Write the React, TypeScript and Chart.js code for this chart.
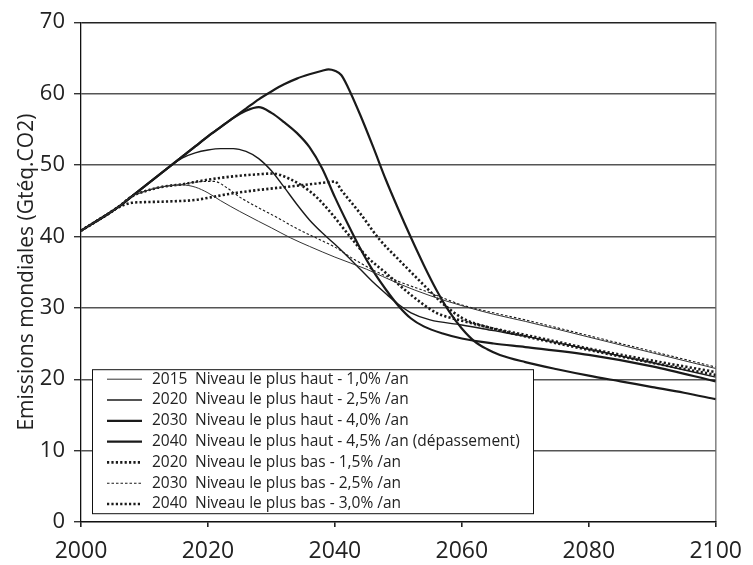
import React, { useEffect, useRef } from "react";
import { Chart, registerables } from "chart.js";

Chart.register(...registerables);

// ---- Data (Gtéq.CO2 per year) ----
const high2015Years = [2000, 2002, 2004, 2006, 2008, 2010, 2012, 2014, 2016, 2018, 2020, 2022, 2025, 2028, 2030, 2033, 2036, 2040, 2045, 2050, 2055, 2060, 2065, 2070, 2080, 2090, 2100];
const high2015Values = [40.8, 41.9, 43.0, 44.2, 45.6, 46.3, 46.8, 47.1, 47.2, 46.9, 46.1, 45.0, 43.5, 42.1, 41.2, 39.8, 38.6, 37.1, 35.4, 33.4, 31.7, 30.3, 29.1, 28.1, 25.9, 23.7, 21.5];

const high2020Years = [2000, 2002, 2004, 2006, 2008, 2010, 2012, 2014, 2016, 2018, 2020, 2022, 2024, 2026, 2028, 2030, 2032, 2034, 2036, 2038, 2040, 2042, 2044, 2046, 2048, 2050, 2052, 2055, 2060, 2065, 2070, 2080, 2090, 2100];
const high2020Values = [40.8, 41.9, 43.0, 44.2, 45.6, 47.0, 48.4, 49.8, 51.0, 51.7, 52.1, 52.3, 52.3, 51.9, 50.9, 49.2, 46.9, 44.5, 42.3, 40.5, 38.9, 37.2, 35.4, 33.6, 32.0, 30.5, 29.3, 28.3, 27.6, 26.8, 26.0, 24.2, 22.3, 20.3];

const high2030Years = [2000, 2002, 2004, 2006, 2008, 2010, 2012, 2014, 2016, 2018, 2020, 2022, 2024, 2026, 2028, 2030, 2032, 2034, 2036, 2038, 2040, 2042, 2044, 2046, 2048, 2050, 2052, 2054, 2057, 2060, 2065, 2070, 2080, 2090, 2100];
const high2030Values = [40.8, 41.9, 43.0, 44.2, 45.6, 47.0, 48.4, 49.8, 51.2, 52.6, 54.0, 55.3, 56.6, 57.6, 58.1, 57.3, 56.0, 54.5, 52.5, 49.5, 45.5, 41.8, 38.3, 35.2, 32.6, 30.3, 28.5, 27.4, 26.4, 25.7, 25.0, 24.5, 23.4, 21.8, 19.7];

const high2040Years = [2000, 2002, 2004, 2006, 2008, 2010, 2012, 2014, 2016, 2018, 2020, 2022, 2024, 2026, 2028, 2030, 2032, 2034, 2036, 2038, 2039, 2040, 2041, 2042, 2044, 2046, 2048, 2050, 2052, 2054, 2056, 2058, 2060, 2062, 2064, 2066, 2070, 2075, 2080, 2085, 2090, 2095, 2100];
const high2040Values = [40.8, 41.9, 43.0, 44.2, 45.6, 47.0, 48.4, 49.8, 51.2, 52.6, 54.0, 55.3, 56.6, 57.9, 59.2, 60.3, 61.3, 62.1, 62.7, 63.2, 63.4, 63.2, 62.6, 61.0, 57.0, 52.6, 48.0, 43.8, 39.8, 36.0, 32.5, 29.5, 27.1, 25.3, 24.2, 23.4, 22.4, 21.4, 20.5, 19.7, 18.9, 18.1, 17.2];

const low2020Years = [2000, 2002, 2004, 2006, 2008, 2010, 2012, 2014, 2016, 2019, 2022, 2025, 2028, 2030, 2031, 2033, 2035, 2037, 2039, 2042, 2045, 2048, 2052, 2056, 2060, 2065, 2070, 2080, 2090, 2100];
const low2020Values = [40.8, 41.9, 43.0, 44.2, 45.6, 46.3, 46.8, 47.1, 47.3, 47.8, 48.2, 48.5, 48.7, 48.8, 48.7, 48.0, 47.0, 45.6, 43.7, 40.4, 37.2, 34.9, 31.8, 29.3, 28.2, 27.1, 26.2, 24.3, 22.6, 21.0];

const low2030Years = [2000, 2002, 2004, 2006, 2008, 2010, 2012, 2014, 2016, 2018, 2020, 2021, 2023, 2025, 2028, 2031, 2034, 2037, 2040, 2043, 2046, 2050, 2055, 2060, 2065, 2070, 2080, 2090, 2100];
const low2030Values = [40.8, 41.9, 43.0, 44.2, 45.6, 46.3, 46.8, 47.1, 47.3, 47.6, 47.7, 47.7, 46.8, 45.5, 44.0, 42.6, 41.1, 39.8, 38.5, 36.8, 35.3, 33.7, 32.1, 30.4, 29.3, 28.3, 26.1, 23.9, 21.7];

const low2040Years = [2000, 2002, 2004, 2006, 2008, 2010, 2014, 2018, 2020, 2023, 2027, 2031, 2035, 2039, 2040, 2041, 2044, 2047, 2050, 2054, 2057, 2060, 2064, 2070, 2080, 2090, 2100];
const low2040Values = [40.8, 41.9, 43.0, 44.1, 44.7, 44.8, 44.9, 45.1, 45.4, 45.9, 46.4, 46.8, 47.2, 47.6, 47.7, 46.5, 43.2, 39.6, 36.8, 33.2, 30.6, 28.6, 27.3, 26.0, 24.1, 22.3, 20.6];

const seriesLabels = [
  "2015  Niveau le plus haut - 1,0% /an",
  "2020  Niveau le plus haut - 2,5% /an",
  "2030  Niveau le plus haut - 4,0% /an",
  "2040  Niveau le plus haut - 4,5% /an (dépassement)",
  "2020  Niveau le plus bas - 1,5% /an",
  "2030  Niveau le plus bas - 2,5% /an",
  "2040  Niveau le plus bas - 3,0% /an",
];

const xTickValues = [2000, 2020, 2040, 2060, 2080, 2100];
const yAxisTitle = "Emissions mondiales (Gtéq.CO2)";

const FONT = "'Open Sans', 'Noto Sans', sans-serif";

function toPoints(xs: number[], ys: number[]) {
  return xs.map((x, i) => ({ x, y: ys[i] }));
}

const styles = [
  { width: 1.0, dash: [] as number[], color: "#333" },
  { width: 1.4, dash: [] as number[], color: "#1a1a1a" },
  { width: 2.2, dash: [] as number[], color: "#1a1a1a" },
  { width: 2.2, dash: [] as number[], color: "#1a1a1a" },
  { width: 2.6, dash: [2.2, 2.2], color: "#1a1a1a" },
  { width: 1.1, dash: [2.5, 2], color: "#1a1a1a" },
  { width: 2.6, dash: [2.2, 2.2], color: "#1a1a1a" },
];

const legendPlugin = {
  id: "boxLegend",
  afterDraw(chart: any) {
    const ctx = chart.ctx as CanvasRenderingContext2D;
    const area = chart.chartArea;
    const left = area.left + 11;
    const top = area.top + 347;
    const w = 441;
    const h = 144;
    ctx.save();
    ctx.fillStyle = "#ffffff";
    ctx.fillRect(left, top, w, h);
    ctx.strokeStyle = "#111";
    ctx.lineWidth = 1;
    ctx.strokeRect(left + 0.5, top + 0.5, w, h);
    ctx.font = `15.5px ${FONT}`;
    ctx.textBaseline = "middle";
    ctx.fillStyle = "#222";
    chart.data.datasets.forEach((ds: any, i: number) => {
      const y = top + 10 + i * 20.8;
      ctx.beginPath();
      ctx.lineWidth = ds.borderWidth;
      ctx.setLineDash(ds.borderDash || []);
      ctx.strokeStyle = ds.borderColor;
      ctx.moveTo(left + 15, y);
      ctx.lineTo(left + 50, y);
      ctx.stroke();
      ctx.setLineDash([]);
      const label: string = ds.label;
      const idx = label.indexOf("  ");
      const year = label.slice(0, idx);
      const rest = label.slice(idx + 2);
      ctx.textAlign = "left";
      ctx.fillText(year, left + 60, y);
      ctx.fillText(rest, left + 103, y);
    });
    ctx.restore();
  },
};

export default function App() {
  const ref = useRef<HTMLCanvasElement | null>(null);
  useEffect(() => {
    if (!ref.current) return;
    const allXs = [high2015Years, high2020Years, high2030Years, high2040Years, low2020Years, low2030Years, low2040Years];
    const allYs = [high2015Values, high2020Values, high2030Values, high2040Values, low2020Values, low2030Values, low2040Values];
    const datasets = allXs.map((xs, i) => ({
      label: seriesLabels[i],
      data: toPoints(xs, allYs[i]),
      borderColor: styles[i].color,
      borderWidth: styles[i].width,
      borderDash: styles[i].dash,
      borderCapStyle: "butt" as const,
      pointRadius: 0,
      fill: false,
      cubicInterpolationMode: "monotone" as const,
    }));
    const chart = new Chart(ref.current, {
      type: "line",
      data: { datasets },
      options: {
        responsive: false,
        animation: false,
        devicePixelRatio: 1,
        layout: { padding: { top: 21, right: 32, left: 0, bottom: 0 } },
        plugins: { legend: { display: false }, tooltip: { enabled: false } },
        scales: {
          x: {
            type: "linear",
            min: 2000,
            max: 2100,
            afterBuildTicks: (s: any) => {
              s.ticks = xTickValues.map((v) => ({ value: v }));
            },
            ticks: {
              font: { family: FONT, size: 23 },
              color: "#222",
              padding: 11,
              maxRotation: 0,
              callback: (v: any) => String(v),
            },
            grid: {
              color: (c: any) => (c.tick && c.tick.value === 2100 ? "#888" : "rgba(0,0,0,0)"),
              lineWidth: 1.6,
              tickColor: "#222",
              tickLength: 5,
            },
            border: { color: "#111", width: 1.3 },
            afterFit: (s: any) => {
              s.height = 43;
            },
          },
          y: {
            min: 0,
            max: 70,
            ticks: {
              stepSize: 10,
              font: { family: FONT, size: 22 },
              color: "#222",
              padding: 9,
            },
            grid: {
              color: (c: any) => (c.tick && c.tick.value === 70 ? "#222" : "#555"),
              lineWidth: 1.4,
              tickLength: 7,
              tickColor: "#333",
            },
            border: { color: "#111", width: 1.3 },
            title: {
              display: true,
              text: yAxisTitle,
              font: { family: FONT, size: 21 },
              color: "#222",
              padding: { top: 14, bottom: 0 },
            },
            afterFit: (s: any) => {
              s.width = 81;
            },
          },
        },
      },
      plugins: [legendPlugin],
    });
    return () => chart.destroy();
  }, []);
  return (
    <div style={{ position: "fixed", left: 0, top: 0, width: 753, height: 565, background: "#fff" }}>
      <canvas ref={ref} width={753} height={565} style={{ display: "block" }} />
    </div>
  );
}
